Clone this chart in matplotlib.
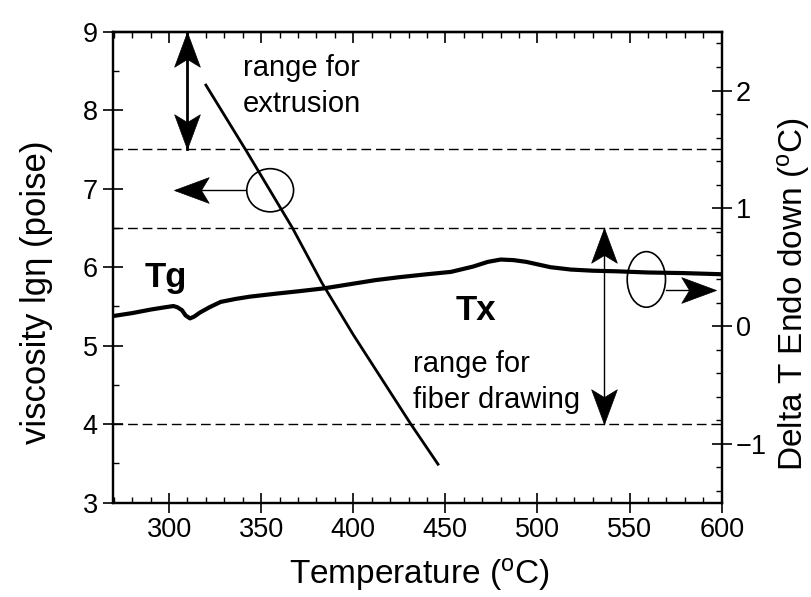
import matplotlib
matplotlib.use('Agg')
import matplotlib.pyplot as plt
from matplotlib.patches import Ellipse
from matplotlib.ticker import MultipleLocator, FixedLocator
from matplotlib.path import Path
from matplotlib.markers import MarkerStyle
from matplotlib.transforms import Affine2D

plt.rcParams['font.family'] = ['Liberation Sans', 'DejaVu Sans']
plt.rcParams['mathtext.fontset'] = 'custom'
plt.rcParams['mathtext.rm'] = 'Liberation Sans'
plt.rcParams['mathtext.it'] = 'Liberation Sans:italic'

# ---------------- data ----------------
visc_T = [320, 342, 355, 367, 383, 400, 431, 446]
visc_lg = [8.32, 7.48, 6.97, 6.50, 5.80, 5.14, 4.01, 3.49]

dsc_T = [269.6, 280, 290, 298, 302.4, 304.5, 307, 309, 311.4, 313.6, 316.8, 322, 328,
         336, 344, 358, 370, 384, 398, 412, 425, 440, 453, 465, 473, 480, 487,
         494, 507, 518, 530, 543, 560, 579, 600]
dsc_dT = [0.085, 0.11, 0.14, 0.16, 0.17, 0.16, 0.135, 0.09, 0.065, 0.08, 0.115, 0.16, 0.205,
          0.23, 0.25, 0.275, 0.295, 0.32, 0.355, 0.39, 0.415, 0.44, 0.46, 0.505, 0.545, 0.565, 0.56,
          0.545, 0.50, 0.48, 0.47, 0.465, 0.455, 0.45, 0.44]

dashed_levels = [7.5, 6.5, 4.0]
extrusion_range = [7.5, 9.0]
fiber_range = [4.0, 6.5]
x_ticks = [300, 350, 400, 450, 500, 550, 600]
yl_ticks = [3, 4, 5, 6, 7, 8, 9]
yr_ticks = [-1, 0, 1, 2]

# ---------------- figure ----------------
fig = plt.figure(figsize=(8.12, 5.97), dpi=100)
ax = fig.add_axes([0.1392, 0.1580, 0.7496, 0.7889])
ax2 = ax.twinx()

ax.set_xlim(269.6, 600)
ax.set_ylim(3, 9)
ax2.set_ylim(-1.5, 2.5)

for a in (ax, ax2):
    for s in a.spines.values():
        s.set_linewidth(1.6)

ax.xaxis.set_major_locator(FixedLocator(x_ticks))
ax.xaxis.set_minor_locator(MultipleLocator(10))
ax.yaxis.set_major_locator(FixedLocator(yl_ticks))
ax.yaxis.set_minor_locator(MultipleLocator(0.5))
ax2.yaxis.set_major_locator(FixedLocator(yr_ticks))
ax2.yaxis.set_minor_locator(MultipleLocator(0.2))

ax.tick_params(axis='both', which='major', direction='inout', length=14, width=1.2,
               labelsize=19.5)
ax.tick_params(axis='both', which='minor', direction='in', length=4, width=1.0)
ax.tick_params(axis='y', which='major', pad=4)
ax.tick_params(axis='x', which='major', pad=3)
ax.tick_params(right=False, top=False, which='both')
ax2.tick_params(axis='y', which='major', direction='inout', length=14, width=1.2,
                labelsize=19.5, pad=3)
ax2.tick_params(axis='y', which='minor', direction='in', length=4, width=1.0)

sec = ax.secondary_xaxis('top')
sec.xaxis.set_major_locator(FixedLocator(x_ticks))
sec.xaxis.set_minor_locator(MultipleLocator(10))
sec.tick_params(which='major', direction='in', length=8, width=1.2, labeltop=False)
sec.tick_params(which='minor', direction='in', length=4, width=1.0)
sec.spines['top'].set_linewidth(1.6)

# dashed levels
for lv in dashed_levels:
    ax.axhline(lv, color='black', lw=1.0, ls=(0, (7, 3.5)), zorder=1)

# curves
ax.plot(visc_T, visc_lg, color='black', lw=2.0, zorder=3)
ax2.plot(dsc_T, dsc_dT, color='black', lw=3.0, zorder=3)

# notched arrow-head marker (tip at the data point)
head_path = Path([(0, 0), (-2, 0.74), (-1.55, 0), (-2, -0.74), (0, 0)],
                 [Path.MOVETO, Path.LINETO, Path.LINETO, Path.LINETO, Path.CLOSEPOLY])


def head(angle):
    return MarkerStyle(head_path, transform=Affine2D().rotate_deg(angle))


def arrowhead(axis, x, y, angle, size=50):
    axis.plot([x], [y], linestyle='none', marker=head(angle), markersize=size,
              color='black', mew=0.5, clip_on=False, zorder=5)


# double arrows for ranges
ax.plot([309.6, 309.6], extrusion_range, color='black', lw=2.0, zorder=4, clip_on=False)
arrowhead(ax, 309.6, extrusion_range[1], 90)
arrowhead(ax, 309.6, extrusion_range[0], -90)

ax.plot([536, 536], fiber_range, color='black', lw=1.0, zorder=4)
arrowhead(ax, 536, fiber_range[1], 90)
arrowhead(ax, 536, fiber_range[0], -90)

# ellipses and pointer arrows
ax.add_patch(Ellipse((354.9, 6.98), width=25.4, height=0.55, fill=False, lw=1.2,
                     color='black', zorder=4))
ax.plot([341.5, 304], [6.98, 6.98], color='black', lw=1.0, zorder=4)
arrowhead(ax, 302.6, 6.98, 180)

ax2.add_patch(Ellipse((559.1, 0.396), width=20.8, height=0.472, fill=False, lw=1.2,
                      color='black', zorder=4))
ax2.plot([569.6, 595], [0.305, 0.305], color='black', lw=1.0, zorder=4)
arrowhead(ax2, 596.7, 0.305, 0)

# texts
ax.text(340.2, 8.44, 'range for', fontsize=21, va='baseline', ha='left')
ax.text(340.2, 7.98, 'extrusion', fontsize=21, va='baseline', ha='left')
ax.text(432.6, 4.67, 'range for', fontsize=21, va='baseline', ha='left')
ax.text(432.6, 4.21, 'fiber drawing', fontsize=21, va='baseline', ha='left')
ax.text(287, 5.75, 'Tg', fontsize=25, fontweight='bold', va='baseline', ha='left')
ax.text(455.4, 5.33, 'Tx', fontsize=25, fontweight='bold', va='baseline', ha='left')

# axis labels
ax.set_xlabel('Temperature ($^{\\mathrm{o}}$C)', fontsize=24)
ax.xaxis.set_label_coords(0.504, -0.113)
ax.set_ylabel('viscosity lgη (poise)', fontsize=25)
ax.yaxis.set_label_coords(-0.0986, 0.447)
ax2.set_ylabel('Delta T Endo down ($^{\\mathrm{o}}$C)', fontsize=24)
ax2.yaxis.set_label_coords(1.0876, 0.442)

fig.savefig('out.png', dpi=100)
